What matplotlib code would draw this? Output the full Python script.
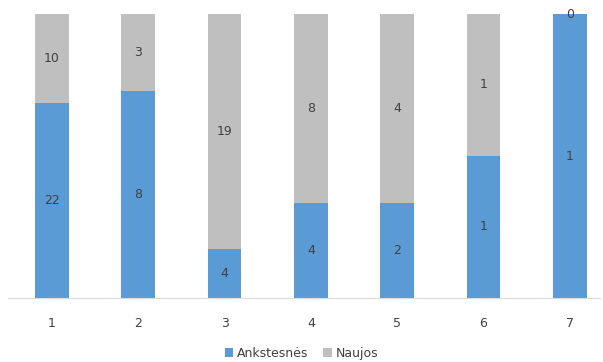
import matplotlib
matplotlib.use("Agg")
import matplotlib.pyplot as plt
import numpy as np

categories = ["1", "2", "3", "4", "5", "6", "7"]
ankstesnes = [22, 8, 4, 4, 2, 1, 1]
naujos = [10, 3, 19, 8, 4, 1, 0]

blue = "#5B9BD5"
gray = "#BFBFBF"
text_c = "#404040"

fig = plt.figure(figsize=(6.03, 3.62), dpi=100)
ax = fig.add_axes([8 / 603, 1 - 298 / 362, 592 / 603, 284 / 362])

a = np.array(ankstesnes, dtype=float)
n = np.array(naujos, dtype=float)
tot = a + n
pa = a / tot
pn = n / tot
x = np.arange(len(categories))
w = 0.39

ax.bar(x, pa, w, color=blue, label="Ankstesnės")
ax.bar(x, pn, w, bottom=pa, color=gray, label="Naujos")

for i in x:
    ax.text(i, pa[i] / 2, str(ankstesnes[i]), ha="center", va="center",
            fontsize=9, color=text_c)
    if naujos[i] == 0:
        ax.text(i, 1.0, str(naujos[i]), ha="center", va="center",
                fontsize=9, color=text_c)
    else:
        ax.text(i, pa[i] + pn[i] / 2, str(naujos[i]), ha="center", va="center",
                fontsize=9, color=text_c)

ax.set_xlim(-0.51, 6.35)
ax.set_ylim(0, 1)
ax.set_yticks([])
ax.set_xticks(x)
ax.set_xticklabels(categories, fontsize=9, color=text_c)
ax.tick_params(axis="x", length=0, pad=14)
for s in ["top", "right", "left"]:
    ax.spines[s].set_visible(False)
ax.spines["bottom"].set_color("#D9D9D9")

fig.legend(loc="lower center", bbox_to_anchor=(0.5, -0.025), ncol=2, frameon=False,
           fontsize=9, handlelength=0.7, handleheight=0.7, handletextpad=0.3,
           columnspacing=1.2, labelcolor=text_c)

plt.savefig("out.png", dpi=100)
